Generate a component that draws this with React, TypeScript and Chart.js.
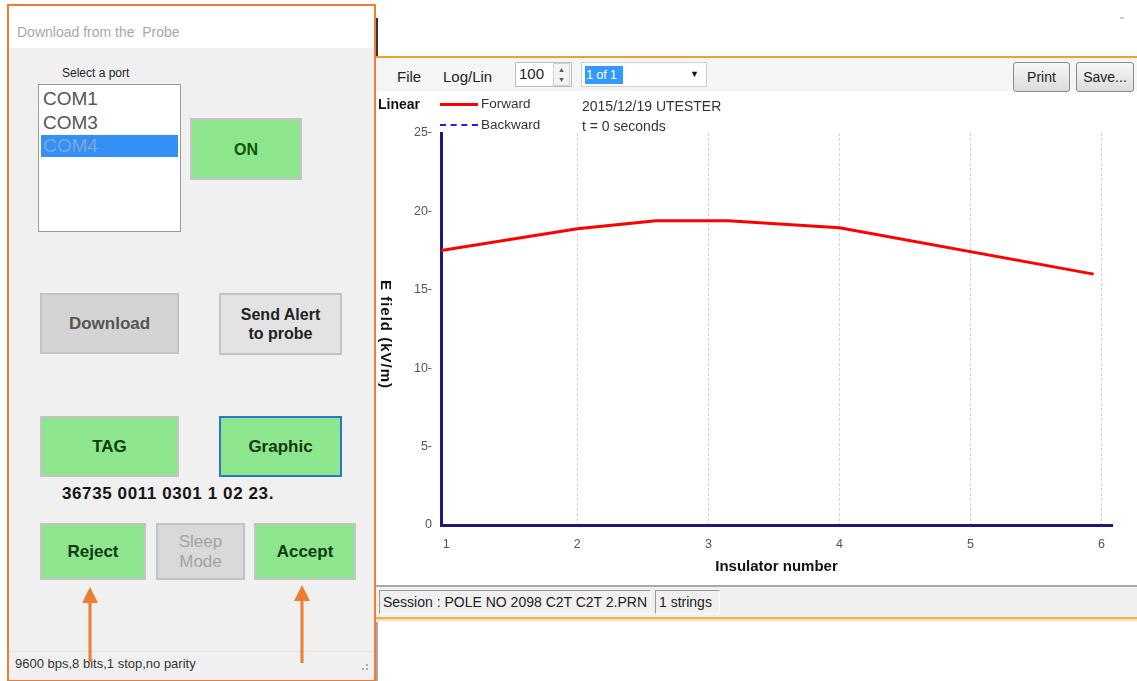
import React, { useEffect, useRef } from 'react';
import { Chart, registerables } from 'chart.js';

Chart.register(...registerables);

// ---- data ----
const insulatorNumber = [0.96, 2, 2.6, 3.15, 4, 5.94];
const forwardField = [17.5, 18.9, 19.4, 19.4, 18.95, 16.0];
const backwardInsulator: number[] = [];
const backwardField: number[] = [];
const xTickValues = [1, 2, 3, 4, 5, 6];
const yTickValues = [0, 5, 10, 15, 20, 25];
const ports = ['COM1', 'COM3', 'COM4'];

const SANS = "'Liberation Sans', Arial, sans-serif";
const GREEN = '#8de68d';
const ORANGE = '#ed7d31';

type BtnProps = {
  x: number; y: number; w: number; h: number; bg: string; border?: string;
  color: string; bold?: boolean; size?: number; lines: string[];
};

function Btn({ x, y, w, h, bg, border, color, bold = true, size = 17, lines }: BtnProps) {
  return (
    <div
      style={{
        position: 'absolute', left: x, top: y, width: w, height: h, boxSizing: 'border-box',
        background: bg, border: border || '2px solid #c4c4c4', color,
        fontFamily: SANS, fontWeight: bold ? 'bold' : 'normal', fontSize: size,
        display: 'flex', flexDirection: 'column', alignItems: 'center', justifyContent: 'center',
        lineHeight: `${Math.round(size * 1.2)}px`,
      }}
    >
      {lines.map((l) => (
        <div key={l}>{l}</div>
      ))}
    </div>
  );
}

function Txt({ x, y, size, color, bold, children, family, spacing }: any) {
  return (
    <div
      style={{
        position: 'absolute', left: x, top: y, fontSize: size, color, whiteSpace: 'nowrap',
        fontFamily: family || SANS, fontWeight: bold ? 'bold' : 'normal', lineHeight: 1,
        letterSpacing: spacing || 0,
      }}
    >
      {children}
    </div>
  );
}

function PlotChart() {
  const ref = useRef<HTMLCanvasElement | null>(null);
  useEffect(() => {
    if (!ref.current) return;
    const chart = new Chart(ref.current, {
      type: 'line',
      data: {
        datasets: [
          {
            label: 'Forward',
            data: insulatorNumber.map((x, i) => ({ x, y: forwardField[i] })),
            borderColor: '#ff0000',
            borderWidth: 3,
            pointRadius: 0,
            tension: 0,
          },
          {
            label: 'Backward',
            data: backwardInsulator.map((x, i) => ({ x, y: backwardField[i] })),
            borderColor: '#1a1aff',
            borderDash: [5, 3],
            borderWidth: 2,
            pointRadius: 0,
          },
        ],
      },
      options: {
        animation: false,
        responsive: false,
        maintainAspectRatio: false,
        layout: { padding: { top: 42, right: 25, left: 0, bottom: 0 } },
        plugins: { legend: { display: false }, tooltip: { enabled: false } },
        scales: {
          x: {
            type: 'linear',
            min: 0.96,
            max: 6.08,
            afterBuildTicks: (s: any) => {
              s.ticks = xTickValues.map((v) => ({ value: v }));
            },
            afterFit: (s: any) => {
              s.height = 60;
            },
            grid: {
              display: true,
              drawTicks: false,
              color: (c: any) => (c.tick && c.tick.value === 1 ? 'rgba(0,0,0,0)' : '#d2d2d2'),
              lineWidth: 1,
            },
            border: { display: true, color: '#1c1c78', width: 3, dash: [3, 2] },
            ticks: {
              color: '#555',
              padding: 12,
              font: { family: SANS, size: 12.5 },
              callback: (v: any) => String(v),
            },
            title: {
              display: true,
              text: 'Insulator number',
              color: '#111',
              font: { family: SANS, size: 15, weight: 'bold' },
              padding: { top: 0, bottom: 9 },
            },
          },
          y: {
            type: 'linear',
            min: 0,
            max: 25,
            afterBuildTicks: (s: any) => {
              s.ticks = yTickValues.map((v) => ({ value: v }));
            },
            afterFit: (s: any) => {
              s.width = 65;
            },
            grid: { display: false, drawTicks: false },
            border: { display: true, color: '#1c1c78', width: 3 },
            ticks: {
              color: '#555',
              padding: 9,
              font: { family: SANS, size: 12.5 },
              callback: (v: any) => (Number(v) === 0 ? '0' : `${v}-`),
            },
          },
        },
      },
    } as any);
    return () => chart.destroy();
  }, []);
  return (
    <canvas
      ref={ref}
      width={761}
      height={494}
      style={{ position: 'absolute', left: 376, top: 91, width: 761, height: 494 }}
    />
  );
}

export default function App() {
  return (
    <div
      style={{
        position: 'absolute', left: 0, top: 0, width: 1137, height: 681, overflow: 'hidden',
        background: '#ffffff', fontFamily: SANS,
      }}
    >
      {/* ---------------- left panel ---------------- */}
      <div
        style={{
          position: 'absolute', left: 7, top: 4, width: 369, height: 678, boxSizing: 'border-box',
          border: `2px solid ${ORANGE}`, background: '#f0f0f0',
        }}
      />
      <div style={{ position: 'absolute', left: 9, top: 6, width: 365, height: 42, background: '#ffffff' }} />
      <Txt x={17} y={25} size={14} color="#a8a8a8">Download from the&nbsp; Probe</Txt>

      <Txt x={62} y={67} size={12} color="#222">Select a port</Txt>
      <div
        style={{
          position: 'absolute', left: 38, top: 84, width: 143, height: 148, boxSizing: 'border-box',
          background: '#fff', border: '1px solid #9a9a9a',
        }}
      />
      {ports.map((p, i) => (
        <div
          key={p}
          style={{
            position: 'absolute', left: 41, top: 88 + i * 23.5, width: 137, height: 22,
            background: i === 2 ? '#3390f5' : 'transparent', color: i === 2 ? '#7fa6d8' : '#555',
            fontSize: 19, lineHeight: '22px', paddingLeft: 2, boxSizing: 'border-box', fontFamily: SANS,
          }}
        >
          {p}
        </div>
      ))}

      <Btn x={190} y={118} w={112} h={62} bg={GREEN} color="#0b560b" size={16} lines={['ON']} />
      <Btn x={40} y={293} w={139} h={61} bg="#d4d4d4" color="#555" lines={['Download']} />
      <Btn x={219} y={293} w={123} h={62} bg="#e3e3e3" color="#222" size={16} lines={['Send Alert', 'to probe']} />
      <Btn x={40} y={416} w={139} h={61} bg={GREEN} color="#0f3a0f" lines={['TAG']} />
      <Btn x={219} y={416} w={123} h={61} bg={GREEN} border="2px solid #2a78c8" color="#0f3a0f" lines={['Graphic']} />
      <Txt x={62} y={485} size={17} bold color="#151515" spacing="0.6px">36735 0011 0301 1 02 23.</Txt>
      <Btn x={40} y={523} w={106} h={57} bg={GREEN} color="#0f3a0f" lines={['Reject']} />
      <Btn x={156} y={523} w={89} h={57} bg="#d9d9d9" color="#a3a3a3" bold={false} lines={['Sleep', 'Mode']} />
      <Btn x={254} y={523} w={102} h={57} bg={GREEN} color="#0f3a0f" lines={['Accept']} />

      <div style={{ position: 'absolute', left: 9, top: 651, width: 365, height: 1, background: '#e4e4e4' }} />
      <Txt x={15} y={657} size={13} color="#333">9600 bps,8 bits,1 stop,no parity</Txt>

      <svg width={1137} height={681} style={{ position: 'absolute', left: 0, top: 0, pointerEvents: 'none' }}>
        <line x1={90} y1={600} x2={90} y2={662} stroke={ORANGE} strokeWidth={3} />
        <polygon points="90,587 82,603 98,603" fill={ORANGE} />
        <line x1={302} y1={598} x2={302} y2={663} stroke={ORANGE} strokeWidth={3} />
        <polygon points="302,585 294,601 310,601" fill={ORANGE} />
        <g fill="#b0b0b0">
          <rect x={366} y={664} width={2} height={2} />
          <rect x={362} y={668} width={2} height={2} />
          <rect x={366} y={668} width={2} height={2} />
          <rect x={1128} y={602} width={2} height={2} />
          <rect x={1124} y={606} width={2} height={2} />
          <rect x={1128} y={606} width={2} height={2} />
        </g>
        {/* edge of a window behind */}
        <line x1={377} y1={18} x2={377} y2={56} stroke="#333" strokeWidth={2} />
        <line x1={1120} y1={18} x2={1124} y2={18} stroke="#999" strokeWidth={1} />
        <line x1={377} y1={622} x2={377} y2={681} stroke="#888" strokeWidth={1.5} />
      </svg>

      {/* ---------------- chart window ---------------- */}
      <div style={{ position: 'absolute', left: 376, top: 56, width: 761, height: 2, background: '#f0a030' }} />
      <div style={{ position: 'absolute', left: 376, top: 58, width: 761, height: 33, background: '#f5f5f5' }} />
      <div style={{ position: 'absolute', left: 376, top: 91, width: 761, height: 494, background: '#ffffff' }} />

      <Txt x={397} y={69} size={15} color="#222">File</Txt>
      <Txt x={443} y={69} size={15} color="#222">Log/Lin</Txt>
      <div
        style={{
          position: 'absolute', left: 515, top: 62, width: 57, height: 25, boxSizing: 'border-box',
          background: '#fff', border: '1px solid #bdbdbd',
        }}
      />
      <Txt x={519} y={66} size={15} color="#222">100</Txt>
      <div
        style={{
          position: 'absolute', left: 553, top: 63, width: 17, height: 23, boxSizing: 'border-box',
          border: '1px solid #d0d0d0', background: '#f3f3f3', fontSize: 7, color: '#555',
          display: 'flex', flexDirection: 'column', alignItems: 'center', justifyContent: 'space-around',
        }}
      >
        <span>▲</span>
        <span>▼</span>
      </div>
      <div
        style={{
          position: 'absolute', left: 581, top: 62, width: 126, height: 25, boxSizing: 'border-box',
          background: '#fff', border: '1px solid #cfcfcf',
        }}
      />
      <div
        style={{
          position: 'absolute', left: 585, top: 66, width: 38, height: 18, background: '#3399ff',
          color: '#fff', fontSize: 13, lineHeight: '18px', paddingLeft: 1, boxSizing: 'border-box',
          fontFamily: SANS, whiteSpace: 'nowrap', letterSpacing: '-0.3px',
        }}
      >
        1 of 1
      </div>
      <Txt x={690} y={70} size={9} color="#111">▼</Txt>

      <div
        style={{
          position: 'absolute', left: 1013, top: 62, width: 57, height: 30, boxSizing: 'border-box',
          border: '1px solid #8a8a8a', borderRadius: 3, background: 'linear-gradient(#f6f6f6, #dcdcdc)',
          fontSize: 14, display: 'flex', alignItems: 'center', justifyContent: 'center', color: '#222', fontFamily: SANS,
        }}
      >
        Print
      </div>
      <div
        style={{
          position: 'absolute', left: 1076, top: 62, width: 58, height: 30, boxSizing: 'border-box',
          border: '1px solid #8a8a8a', borderRadius: 3, background: 'linear-gradient(#f6f6f6, #dcdcdc)',
          fontSize: 14, display: 'flex', alignItems: 'center', justifyContent: 'center', color: '#222', fontFamily: SANS,
        }}
      >
        Save...
      </div>

      <PlotChart />

      {/* legend and header texts */}
      <Txt x={378} y={97} size={14} bold color="#111">Linear</Txt>
      <div style={{ position: 'absolute', left: 440, top: 103, width: 38, height: 2.5, background: '#ff0000' }} />
      <Txt x={481} y={97} size={13.5} color="#333">Forward</Txt>
      <div
        style={{
          position: 'absolute', left: 440, top: 124, width: 38, height: 0,
          borderTop: '2.5px dashed #2020ee',
        }}
      />
      <Txt x={481} y={118} size={13.5} color="#333">Backward</Txt>
      <Txt x={582} y={99} size={14} color="#333">2015/12/19 UTESTER</Txt>
      <Txt x={582} y={119} size={14} color="#333">t = 0 seconds</Txt>

      <div
        style={{
          position: 'absolute', left: 378, top: 280, writingMode: 'vertical-rl', fontFamily: SANS,
          fontWeight: 'bold', fontSize: 15, lineHeight: '16px', color: '#111', letterSpacing: '1px',
          whiteSpace: 'nowrap',
        }}
      >
        E field (kV/m)
      </div>

      {/* status bar */}
      <div
        style={{
          position: 'absolute', left: 376, top: 585, width: 761, height: 32, boxSizing: 'border-box',
          background: '#f0f0f0', borderTop: '2px solid #a9a9a9',
        }}
      />
      <div
        style={{
          position: 'absolute', left: 379, top: 590, width: 272, height: 24, boxSizing: 'border-box',
          borderTop: '1px solid #9a9a9a', borderLeft: '1px solid #9a9a9a', borderRight: '1px solid #fff',
          borderBottom: '1px solid #fff', fontSize: 14, lineHeight: '22px', paddingLeft: 3, color: '#222',
          whiteSpace: 'nowrap', fontFamily: SANS,
        }}
      >
        Session : POLE NO 2098 C2T C2T 2.PRN
      </div>
      <div
        style={{
          position: 'absolute', left: 655, top: 590, width: 65, height: 24, boxSizing: 'border-box',
          borderTop: '1px solid #9a9a9a', borderLeft: '1px solid #9a9a9a', borderRight: '1px solid #fff',
          borderBottom: '1px solid #fff', fontSize: 14, lineHeight: '22px', paddingLeft: 3, color: '#222',
          whiteSpace: 'nowrap', fontFamily: SANS,
        }}
      >
        1 strings
      </div>
      <div style={{ position: 'absolute', left: 376, top: 617, width: 761, height: 2, background: '#f5b041' }} />
      <div style={{ position: 'absolute', left: 376, top: 619, width: 761, height: 2, background: '#fbe3b5' }} />
    </div>
  );
}
